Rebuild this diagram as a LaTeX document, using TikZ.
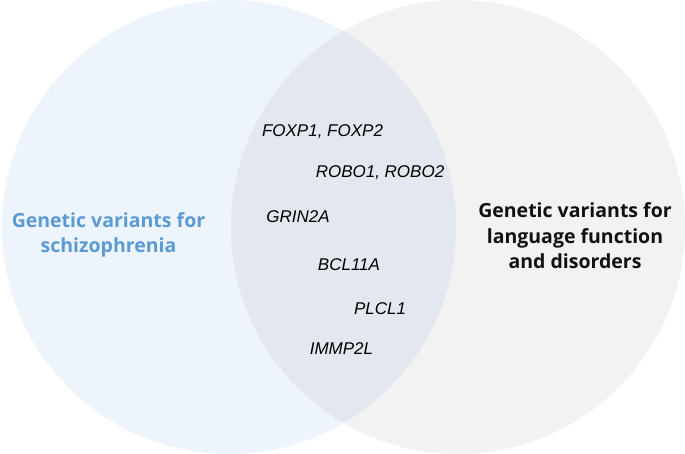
\documentclass[tikz,border=0pt]{standalone}
\usepackage{fontspec}
\setmainfont{Liberation Sans}
\newfontfamily\labfont{Open Sans}
\definecolor{leftfill}{HTML}{EEF4FB}
\definecolor{rightfill}{HTML}{F2F2F2}
\definecolor{overlapfill}{HTML}{E3E7EF}
\definecolor{labblue}{HTML}{5B9BD5}
\definecolor{labblack}{HTML}{111111}
\begin{document}
\begin{tikzpicture}[x=1pt,y=-1pt,
  setlabel/.style={font=\labfont\bfseries\fontsize{19.5}{25.5}\selectfont, align=center},
  gene/.style={font=\itshape\fontsize{17}{20}\selectfont, text=black, inner sep=0pt}]
\useasboundingbox (0,0) rectangle (685,454);
\fill[leftfill] (229,227) circle (227);
\fill[rightfill] (458,227) circle (227);
\begin{scope}
  \clip (229,227) circle (227);
  \fill[overlapfill] (458,227) circle (227);
\end{scope}
\node[setlabel, text=labblue] (schiz) at (108.5,235) {Genetic variants for\\schizophrenia};
\node[setlabel, text=labblack] (lang) at (575,236) {Genetic variants for\\language function\\and disorders};
\node[gene] (foxp) at (322.5,132) {FOXP1, FOXP2};
\node[gene] (robo) at (380,173) {ROBO1, ROBO2};
\node[gene] (grin) at (298,217) {GRIN2A};
\node[gene] (bcl) at (349,265) {BCL11A};
\node[gene] (plcl) at (380,309) {PLCL1};
\node[gene] (immp) at (341.5,349) {IMMP2L};
\end{tikzpicture}
\end{document}
